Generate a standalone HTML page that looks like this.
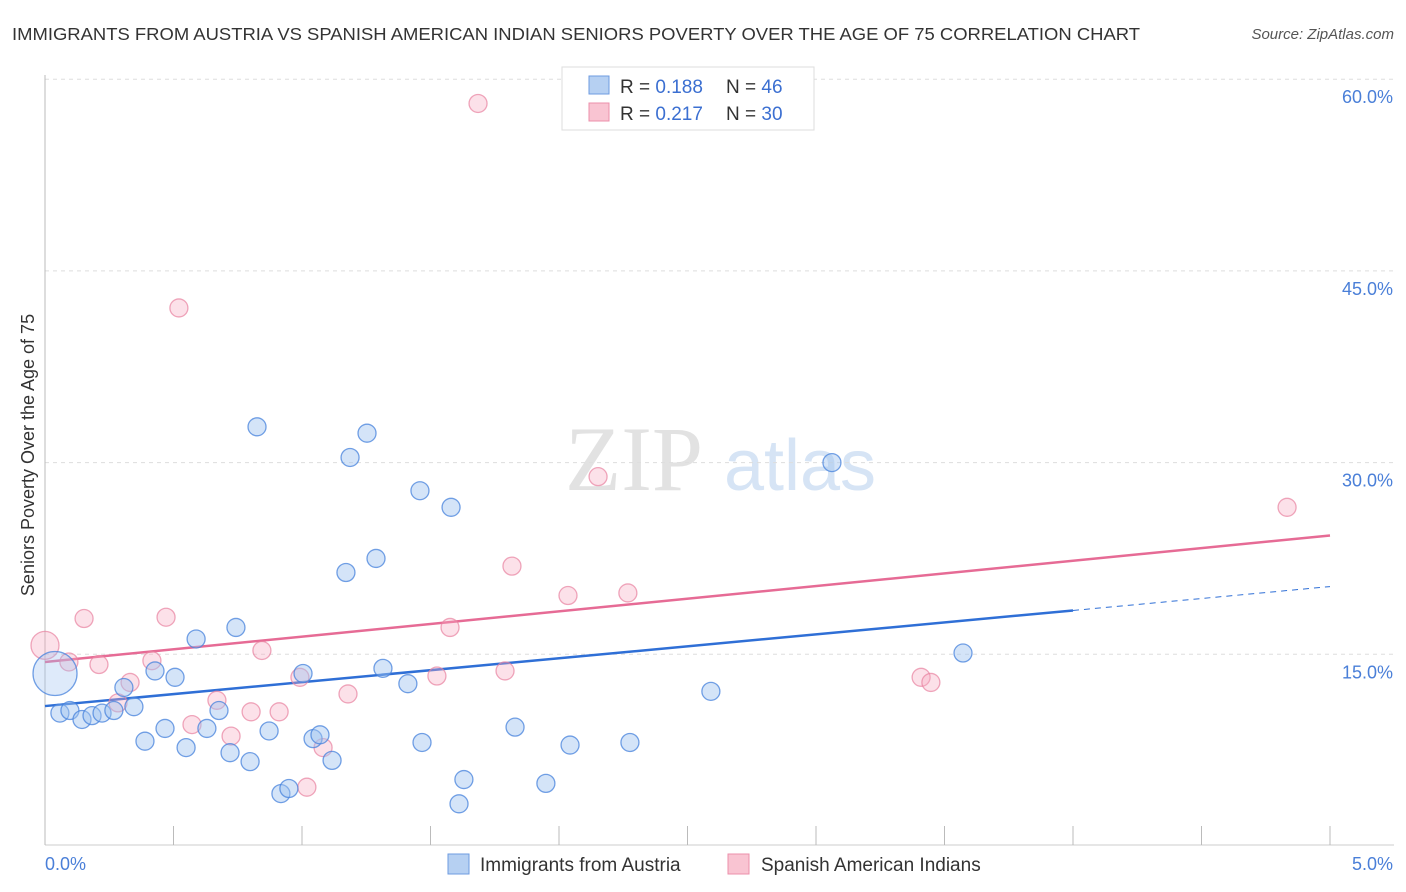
<!DOCTYPE html>
<html><head><meta charset="utf-8"><style>
body{margin:0;background:#fff;font-family:"Liberation Sans",sans-serif;}
svg{display:block}
</style></head><body>
<svg id="chart" width="1406" height="892">
<text x="12" y="40" font-size="17.5" fill="#333" textLength="1128" lengthAdjust="spacingAndGlyphs">IMMIGRANTS FROM AUSTRIA VS SPANISH AMERICAN INDIAN SENIORS POVERTY OVER THE AGE OF 75 CORRELATION CHART</text>
<text x="1394" y="39" font-size="15" fill="#555" font-style="italic" text-anchor="end">Source: ZipAtlas.com</text>
<g>
<text x="634" y="490" font-size="92" fill="#e2e2e2" font-family="Liberation Serif" text-anchor="middle">ZIP</text>
<text x="800" y="490" font-size="72" fill="#d6e4f5" text-anchor="middle">atlas</text>
</g>
<g id="grid"></g><g id="axes"></g><g id="trends"></g><g id="points"></g>
<text transform="translate(34,455) rotate(-90)" font-size="18" fill="#333" text-anchor="middle">Seniors Poverty Over the Age of 75</text>
<g>
<rect x="562" y="67" width="252" height="63" fill="#fff" stroke="#ddd"/>
<rect x="589" y="76" width="20" height="18" fill="#b6d0f2" stroke="#6e9be0"/>
<rect x="589" y="103" width="20" height="18" fill="#f9c4d2" stroke="#ec8fab"/>
<text x="620" y="93" font-size="19" fill="#333">R = <tspan fill="#3b6fd1">0.188</tspan></text>
<text x="726" y="93" font-size="19" fill="#333">N = <tspan fill="#3b6fd1">46</tspan></text>
<text x="620" y="120" font-size="19" fill="#333">R = <tspan fill="#3b6fd1">0.217</tspan></text>
<text x="726" y="120" font-size="19" fill="#333">N = <tspan fill="#3b6fd1">30</tspan></text>
</g>
<g>
<rect x="448" y="854" width="21" height="20" fill="#b6d0f2" stroke="#6e9be0"/>
<text x="480" y="871" font-size="19" fill="#333">Immigrants from Austria</text>
<rect x="728" y="854" width="21" height="20" fill="#f9c4d2" stroke="#ec8fab"/>
<text x="761" y="871" font-size="19" fill="#333">Spanish American Indians</text>
</g>
</svg>
<script>
const blueX=[0.039,0.058,0.097,0.144,0.183,0.222,0.268,0.307,0.346,0.389,0.428,0.467,0.506,0.549,0.588,0.630,0.677,0.720,0.743,0.798,0.825,0.872,0.918,0.949,1.004,1.043,1.070,1.117,1.171,1.187,1.253,1.288,1.315,1.412,1.459,1.467,1.580,1.630,1.611,1.829,1.949,2.043,2.276,2.591,3.062,3.572];
const blueY=[13.5,10.4,10.6,9.9,10.2,10.4,10.6,12.4,10.9,8.2,13.7,9.2,13.2,7.7,16.2,9.2,10.6,7.3,17.1,6.6,32.8,9.0,4.1,4.5,13.5,8.4,8.7,6.7,21.4,30.4,32.3,22.5,13.9,12.7,27.8,8.1,26.5,5.2,3.3,9.3,4.9,7.9,8.1,12.1,30.0,15.1];
const pinkX=[0.0,0.093,0.152,0.210,0.284,0.331,0.416,0.471,0.521,0.572,0.669,0.724,0.802,0.844,0.911,0.992,1.019,1.082,1.179,1.576,1.525,1.685,1.790,1.817,2.035,2.152,2.268,3.409,3.447,4.833];
const pinkY=[15.7,14.4,17.8,14.2,11.2,12.8,14.5,17.9,42.1,9.5,11.4,8.6,10.5,15.3,10.5,13.2,4.6,7.7,11.9,17.1,13.3,58.1,13.7,21.9,19.6,28.9,19.8,13.2,12.8,26.5];
const blueTrend=[10.95,20.3];
const pinkTrend=[14.4,24.3];
const yTicks=[15,30,45,60];
const xTickLabels=["0.0%","5.0%"];
const xs=v=>45+v*257, ys=v=>846-v*12.78;
const NS="http://www.w3.org/2000/svg";
function mk(p,t,a){const e=document.createElementNS(NS,t);for(const k in a)e.setAttribute(k,a[k]);p.appendChild(e);return e;}
const grid=document.getElementById('grid'),axes=document.getElementById('axes'),tr=document.getElementById('trends'),pts=document.getElementById('points');
yTicks.forEach(v=>{
 const l=mk(grid,'line',{x1:45,x2:1394,y1:ys(v),y2:ys(v),stroke:'#ddd','stroke-dasharray':'4,4'});
 
 
 const t=mk(grid,'text',{x:1393,y:ys(v)+24,'font-size':18,fill:'#4a7fd8','text-anchor':'end'});t.textContent=v.toFixed(1)+'%';
 
 
});
const ax=mk(axes,'line',{x1:45,x2:1394,y1:845,y2:845,stroke:'#ccc'});


const ay=mk(axes,'line',{x1:45,x2:45,y1:75,y2:845,stroke:'#bbb'});


for(let i=0;i<=10;i++){const tk=mk(axes,'line',{x1:xs(i*0.5),x2:xs(i*0.5),y1:826,y2:845,stroke:'#bbb'});
 
 }
[[0,xTickLabels[0],'start',45],[5,xTickLabels[1],'end',1393]].forEach(([v,s,a,x])=>{const t=mk(axes,'text',{x:x,y:870,'font-size':18,fill:'#4a7fd8','text-anchor':a});t.textContent=s;
 
 });
const bAt=v=>blueTrend[0]+(blueTrend[1]-blueTrend[0])*v/5, pAt=v=>pinkTrend[0]+(pinkTrend[1]-pinkTrend[0])*v/5;
let l=mk(tr,'line',{x1:xs(0),y1:ys(bAt(0)),x2:xs(4),y2:ys(bAt(4)),stroke:'#2f6fd6','stroke-width':2.5});


l=mk(tr,'line',{x1:xs(4),y1:ys(bAt(4)),x2:xs(5),y2:ys(bAt(5)),stroke:'#2f6fd6','stroke-width':1,'stroke-dasharray':'6,5'});


l=mk(tr,'line',{x1:xs(0),y1:ys(pAt(0)),x2:xs(5),y2:ys(pAt(5)),stroke:'#e66b95','stroke-width':2.5});


pinkX.forEach((x,i)=>{const c=mk(pts,'circle',{cx:xs(x),cy:ys(pinkY[i]),r:i==0?14:9,fill:'rgba(246,170,192,0.35)',stroke:'rgba(232,130,160,0.7)','stroke-width':1.3});
 
 });
blueX.forEach((x,i)=>{const c=mk(pts,'circle',{cx:xs(x),cy:ys(blueY[i]),r:i==0?22:9,fill:i==0?'rgba(160,195,240,0.35)':'rgba(160,195,240,0.45)',stroke:'rgba(70,130,220,0.75)','stroke-width':1.3});
 
 });
</script>
</body></html>
